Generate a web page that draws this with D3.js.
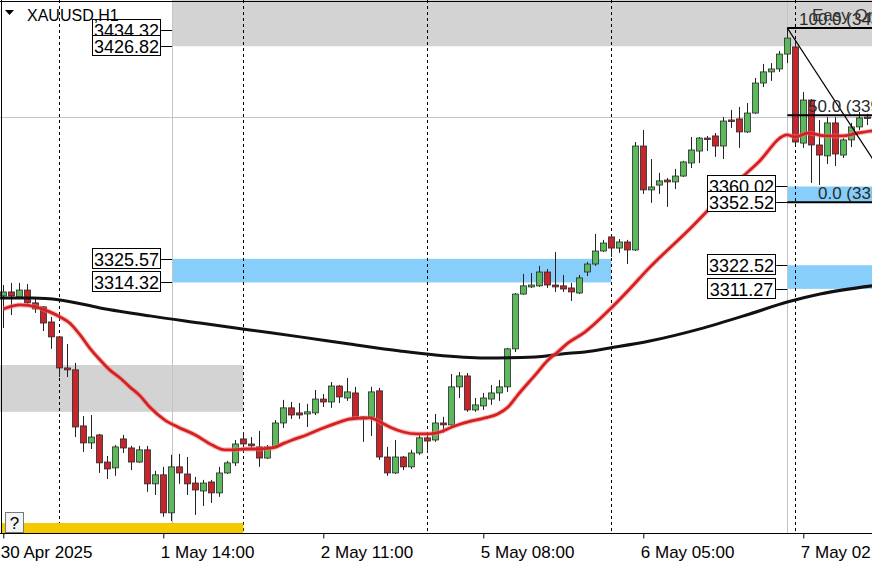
<!DOCTYPE html>
<html>
<head>
<meta charset="utf-8">
<title>XAUUSD,H1</title>
<script src="https://cdn.jsdelivr.net/npm/d3@7/dist/d3.min.js"></script>
<style>
  body { margin: 0; background: #fff; }
  svg { display: block; font-family: "Liberation Sans", Arial, sans-serif; }
</style>
</head>
<body>
<svg id="chart" width="872" height="562"></svg>
<script>
// H1 candles, bar 0 = 30 Apr 17:00
var opens = [3307.9,3309.8,3307.4,3310.7,3304.6,3302.7,3295.5,3288.4,3273.6,3272.7,
  3246.0,3237.9,3241.7,3228.8,3226.0,3239.8,3235.5,3228.8,3234.6,3218.4,
  3222.7,3204.6,3226.5,3223.1,3218.8,3215.0,3219.3,3214.1,3223.6,3228.4,
  3239.8,3237.4,3236.0,3230.7,3236.0,3247.4,3254.6,3252.2,3251.7,3252.2,
  3258.8,3257.4,3265.0,3259.3,3261.7,3250.3,3250.3,3262.7,3231.2,3223.6,
  3231.2,3226.5,3233.1,3240.3,3239.3,3247.4,3246.5,3264.6,3269.8,3253.6,
  3255.5,3258.8,3261.7,3264.6,3282.7,3308.8,3312.2,3312.7,3319.3,3313.1,
  3312.7,3311.7,3309.3,3319.3,3323.1,3329.3,3336.0,3330.7,3333.6,3329.8,
  3379.3,3358.4,3360.7,3363.1,3362.2,3365.0,3371.2,3376.9,3383.1,3384.1,
  3379.3,3391.7,3392.2,3386.0,3395.0,3409.3,3414.6,3416.0,3423.1,3426.5,
  3380.7,3401.2,3379.8,3374.6,3390.3,3375.0,3382.2,3388.4,3393.1];
var highs = [3313.1,3314.1,3314.1,3313.6,3307.4,3303.1,3297.9,3288.8,3285.0,3276.0,
  3250.7,3251.2,3242.2,3231.7,3236.9,3241.7,3236.5,3236.5,3236.5,3224.6,
  3226.5,3232.2,3232.7,3231.2,3221.7,3220.3,3220.3,3226.5,3229.3,3239.3,
  3243.1,3240.7,3243.6,3236.9,3248.8,3258.4,3257.4,3256.9,3256.5,3263.1,
  3261.2,3266.9,3265.5,3268.8,3264.6,3250.7,3264.6,3264.1,3236.0,3239.3,
  3231.7,3234.6,3242.2,3242.2,3251.7,3250.3,3270.7,3271.7,3271.2,3259.3,
  3261.7,3265.5,3267.9,3283.1,3309.3,3318.4,3318.8,3322.2,3320.7,3328.8,
  3317.9,3314.1,3317.9,3324.1,3337.4,3334.6,3336.5,3335.0,3334.6,3381.2,
  3386.9,3373.1,3366.5,3364.1,3368.4,3372.2,3383.6,3383.6,3384.1,3385.5,
  3393.1,3396.5,3397.9,3399.8,3411.7,3418.4,3418.8,3424.6,3435.5,3429.8,
  3405.0,3401.7,3391.7,3393.1,3393.1,3383.1,3390.3,3395.5,3394.6];
var lows = [3292.6,3298.8,3306.9,3304.1,3299.8,3291.2,3282.7,3269.3,3269.3,3240.7,
  3233.6,3235.0,3223.6,3220.7,3222.2,3233.1,3225.0,3228.4,3214.6,3213.1,
  3202.7,3200.7,3218.4,3213.1,3203.6,3207.9,3209.3,3212.2,3223.1,3226.9,
  3236.5,3235.5,3226.5,3230.3,3235.5,3245.0,3249.3,3249.3,3245.5,3251.2,
  3255.0,3254.6,3256.9,3257.9,3249.3,3238.4,3241.2,3229.8,3222.2,3223.1,
  3225.0,3225.5,3232.2,3233.1,3238.4,3242.7,3245.5,3259.3,3252.7,3252.7,
  3253.6,3256.0,3257.9,3262.2,3281.2,3308.4,3311.7,3312.2,3311.7,3309.8,
  3309.8,3305.5,3308.8,3317.4,3322.2,3328.8,3326.5,3328.4,3323.1,3329.3,
  3356.5,3352.2,3356.5,3350.3,3358.8,3364.6,3368.8,3371.2,3376.9,3374.1,
  3373.1,3387.9,3378.4,3385.5,3394.6,3407.4,3410.3,3414.6,3418.8,3379.8,
  3378.4,3361.7,3360.7,3370.7,3369.8,3373.6,3378.8,3386.9,3389.3];
var closes = [3309.8,3307.9,3310.7,3304.6,3301.7,3295.0,3288.4,3273.6,3272.7,3245.5,
  3237.9,3240.7,3228.4,3225.5,3236.0,3235.5,3228.8,3234.6,3218.4,3222.7,
  3204.6,3226.5,3223.6,3218.4,3215.5,3218.8,3214.1,3223.6,3228.4,3237.4,
  3237.4,3236.5,3230.7,3236.0,3247.4,3254.6,3251.2,3251.2,3252.7,3258.8,
  3257.4,3265.0,3259.8,3262.2,3249.8,3249.3,3262.2,3231.2,3223.6,3231.2,
  3226.5,3233.1,3240.3,3238.8,3247.4,3246.5,3264.6,3269.8,3253.6,3256.0,
  3259.3,3261.7,3264.6,3282.7,3308.8,3312.7,3313.1,3319.3,3313.1,3312.2,
  3311.2,3309.8,3316.5,3323.1,3329.3,3333.1,3330.7,3333.6,3329.8,3379.3,
  3358.4,3359.8,3362.7,3362.2,3365.0,3371.7,3377.4,3383.1,3382.7,3379.3,
  3391.2,3391.2,3386.0,3395.0,3409.3,3414.6,3416.0,3423.1,3430.7,3381.2,
  3401.2,3379.8,3375.0,3390.3,3375.5,3382.2,3388.4,3392.7,3392.7];

// moving averages: [bar, price]
var maFast = [[0,3301.7],[2.1,3303.6],[4.2,3302.6],[5.8,3300.3],[7.1,3297.9],[8.3,3295.0],
  [9.6,3289.3],[10.8,3283.1],[12.1,3277.4],[13.3,3272.7],[14.6,3268.8],[15.8,3264.6],
  [17.1,3260.3],[18.3,3255.0],[20.2,3248.8],[21.8,3245.5],[24.0,3241.7],[26.1,3236.9],
  [27.7,3234.6],[28.9,3234.6],[30.2,3235.0],[31.8,3235.0],[33.6,3235.5],[35.2,3237.9],
  [36.5,3239.8],[37.9,3241.7],[40.0,3245.0],[42.1,3247.9],[43.3,3249.3],[45.8,3249.8],
  [47.1,3247.9],[48.3,3245.5],[50.0,3243.1],[51.7,3242.2],[53.3,3242.2],[54.6,3243.1],
  [56.1,3245.5],[58.1,3247.9],[60.2,3249.8],[61.8,3251.7],[63.1,3255.0],[64.3,3260.7],
  [66.5,3270.3],[68.1,3277.4],[69.3,3281.2],[70.6,3285.5],[72.7,3290.7],[76.0,3302.2],
  [78.3,3311.2],[80.5,3320.3],[85.8,3339.8],[90.2,3356.9],[94.3,3371.2],[98.0,3384.6],
  [99.0,3383.6],[100.6,3385.5],[102.7,3384.1],[104.8,3384.1],[106.8,3385.5],[108.6,3386.5]];
var maSlow = [[-0.4,3306.9],[3.7,3306.9],[7.1,3306.0],[12.1,3302.2],[18.3,3298.4],[24.6,3295.0],
  [30.8,3291.7],[37.1,3288.4],[43.3,3285.0],[49.6,3281.7],[54.0,3279.8],[60.2,3278.4],
  [66.5,3278.8],[69.8,3280.3],[72.7,3281.2],[75.8,3283.1],[80.8,3286.4],[87.1,3292.2],
  [93.3,3299.3],[98.0,3305.0],[102.1,3308.8],[108.6,3312.7]];

var timeTicks = [0, 20, 40, 60, 80, 100];
var timeLabels = ["30 Apr 2025", "1 May 14:00", "2 May 11:00", "5 May 08:00", "6 May 05:00", "7 May 02:00"];
var daySeparators = [7, 30, 53, 76, 99];
var gridBars = [21.1, 98];
var gridPrices = [3393.1];

var grayZones = [
  { from: 21.1, to: 120, top: 3460, bottom: 3426.82 },
  { from: -2, to: 30, top: 3275.0, bottom: 3252.7 }
];
var blueZones = [
  { from: 21.1, to: 76, top: 3325.57, bottom: 3314.32 },
  { from: 98, to: 120, top: 3360.02, bottom: 3352.52 },
  { from: 98, to: 120, top: 3322.52, bottom: 3311.27 }
];
var tagPrices = [3434.32, 3426.82, 3325.57, 3314.32, 3360.02, 3352.52, 3322.52, 3311.27];
var tagBars = [21.1, 21.1, 21.1, 21.1, 98, 98, 98, 98];

var fibHigh = 3435.47, fibLow = 3352.52, fibStart = 98;
var fibLevels = [100, 50, 0];
var trendLine = [[98, 3435.5], [112, 3353.7]];

var W = 872, H = 562, plotBottom = 533;
var svg = d3.select("#chart");

var x = d3.scaleLinear().domain([0, 108]).range([3.3, 867.3]);
var y = d3.scaleLinear().domain([3195.0, 3448.84]).range([plotBottom, 0]);

svg.append("rect").attr("width", W).attr("height", H).attr("fill", "#fff");

svg.append("defs").append("clipPath").attr("id", "plot")
  .append("rect").attr("x", 0).attr("y", 0).attr("width", W).attr("height", plotBottom);

var plot = svg.append("g").attr("clip-path", "url(#plot)");

function zoneRect(sel, color) {
  sel.append("rect")
    .attr("x", function (d) { return x(d.from); })
    .attr("y", function (d) { return y(d.top); })
    .attr("width", function (d) { return x(d.to) - x(d.from); })
    .attr("height", function (d) { return y(d.bottom) - y(d.top); })
    .attr("fill", color);
}
plot.selectAll(".gz").data(grayZones).enter().call(zoneRect, "#d3d3d3");
plot.selectAll(".bz").data(blueZones).enter().call(zoneRect, "#87cefa");

// grid
plot.selectAll(".gx").data(gridBars).enter().append("line")
  .attr("x1", function (d) { return Math.round(x(d)) + 0.5; })
  .attr("x2", function (d) { return Math.round(x(d)) + 0.5; })
  .attr("y1", 0).attr("y2", plotBottom)
  .attr("stroke", "#c4c4c4").attr("stroke-width", 1);
plot.selectAll(".gy").data(gridPrices).enter().append("line")
  .attr("x1", 0).attr("x2", W)
  .attr("y1", function (d) { return Math.round(y(d)) + 0.5; })
  .attr("y2", function (d) { return Math.round(y(d)) + 0.5; })
  .attr("stroke", "#c4c4c4").attr("stroke-width", 1);

// day separators
plot.selectAll(".sep").data(daySeparators).enter().append("line")
  .attr("x1", function (d) { return Math.round(x(d)) + 0.5; })
  .attr("x2", function (d) { return Math.round(x(d)) + 0.5; })
  .attr("y1", 0).attr("y2", plotBottom)
  .attr("stroke", "#000").attr("stroke-width", 1).attr("stroke-dasharray", "3,3");

// yellow strip and ? button
plot.append("rect").attr("x", x(-0.3)).attr("y", 523).attr("width", x(30) - x(-0.3)).attr("height", 10)
  .attr("fill", "#f5c800");
plot.append("rect").attr("x", 5.5).attr("y", 512.5).attr("width", 18).attr("height", 20)
  .attr("fill", "#f4f4f4").attr("stroke", "#7a7a7a");
plot.append("text").attr("x", 14.5).attr("y", 529).attr("text-anchor", "middle")
  .attr("font-size", 17).attr("fill", "#000").text("?");

// candles
var bars = d3.range(opens.length);
var candle = plot.selectAll(".c").data(bars).enter().append("g");
candle.append("line")
  .attr("x1", function (i) { return Math.round(x(i)) + 0.5; })
  .attr("x2", function (i) { return Math.round(x(i)) + 0.5; })
  .attr("y1", function (i) { return y(highs[i]); })
  .attr("y2", function (i) { return y(lows[i]); })
  .attr("stroke", "#222").attr("stroke-width", 1);
candle.append("rect")
  .attr("x", function (i) { return Math.round(x(i)) - 2.5; })
  .attr("y", function (i) { return y(Math.max(opens[i], closes[i])); })
  .attr("width", 6)
  .attr("height", function (i) { return Math.max(1.5, Math.abs(y(opens[i]) - y(closes[i]))); })
  .attr("fill", function (i) { return closes[i] >= opens[i] ? "#5cb85c" : "#c4262e"; })
  .attr("stroke", "#2a2a2a").attr("stroke-width", 0.8);

// moving averages
var line = d3.line().x(function (d) { return x(d[0]); }).y(function (d) { return y(d[1]); })
  .curve(d3.curveMonotoneX);
plot.append("path").datum(maSlow).attr("d", line)
  .attr("fill", "none").attr("stroke", "#111").attr("stroke-width", 3);
plot.append("path").datum(maFast).attr("d", line)
  .attr("fill", "none").attr("stroke", "#f08080").attr("stroke-width", 5).attr("opacity", 0.5);
plot.append("path").datum(maFast).attr("d", line)
  .attr("fill", "none").attr("stroke", "#d42020").attr("stroke-width", 2.8);

// trend line
plot.append("line")
  .attr("x1", x(trendLine[0][0])).attr("y1", y(trendLine[0][1]))
  .attr("x2", x(trendLine[1][0])).attr("y2", y(trendLine[1][1]))
  .attr("stroke", "#000").attr("stroke-width", 1.3);

// fibonacci
var fib = plot.selectAll(".fib").data(fibLevels).enter().append("g");
fib.append("line")
  .attr("x1", x(fibStart)).attr("x2", W)
  .attr("y1", function (d) { return y(fibLow + (fibHigh - fibLow) * d / 100); })
  .attr("y2", function (d) { return y(fibLow + (fibHigh - fibLow) * d / 100); })
  .attr("stroke", "#000").attr("stroke-width", 2);
plot.append("text").attr("x", 812).attr("y", 21).attr("font-size", 17).attr("fill", "#333")
  .text("Easy Order");
fib.append("text")
  .attr("x", function (d) { return d === 100 ? 799 : d === 50 ? 808 : 818; })
  .attr("y", function (d) { return y(fibLow + (fibHigh - fibLow) * d / 100) - 3; })
  .attr("font-size", 17).attr("fill", "#2a2a2a")
  .text(function (d) {
    return d.toFixed(1) + " (" + (fibLow + (fibHigh - fibLow) * d / 100).toFixed(2) + ")";
  });

// price tags
var tags = svg.selectAll(".tag").data(tagPrices).enter().append("g");
tags.append("line")
  .attr("x1", function (d, i) { return x(tagBars[i]) - 11; })
  .attr("x2", function (d, i) { return x(tagBars[i]); })
  .attr("y1", function (d) { return Math.round(y(d)) + 0.5; })
  .attr("y2", function (d) { return Math.round(y(d)) + 0.5; })
  .attr("stroke", "#000");
tags.append("rect")
  .attr("x", function (d, i) { return Math.round(x(tagBars[i])) - 79.5; })
  .attr("y", function (d) { return Math.round(y(d)) - 10.5; })
  .attr("width", 68).attr("height", 20)
  .attr("fill", "#fff").attr("stroke", "#000");
tags.append("text")
  .attr("x", function (d, i) { return Math.round(x(tagBars[i])) - 45.5; })
  .attr("y", function (d) { return Math.round(y(d)) + 6.5; })
  .attr("text-anchor", "middle").attr("font-size", 18).attr("fill", "#000")
  .text(function (d) { return d.toFixed(2); });

// time axis
var axis = d3.axisBottom(x).tickValues(timeTicks).tickSize(5).tickPadding(4)
  .tickFormat(function (d, i) { return timeLabels[i]; });
var ax = svg.append("g").attr("transform", "translate(0," + (plotBottom + 0.5) + ")").call(axis);
ax.select(".domain").attr("d", "M0,0H" + W).attr("stroke", "#000");
ax.selectAll(".tick line").attr("stroke", "#000");
ax.selectAll(".tick text").attr("text-anchor", "start").attr("font-size", 17)
  .attr("font-family", "Liberation Sans, Arial, sans-serif").attr("fill", "#000")
  .attr("dx", -3).attr("dy", "0.9em");

// frame and title
svg.append("line").attr("x1", 1.5).attr("x2", 1.5).attr("y1", 0).attr("y2", plotBottom).attr("stroke", "#000");
svg.append("line").attr("x1", 0).attr("x2", W).attr("y1", 1.5).attr("y2", 1.5).attr("stroke", "#000");
svg.append("path").attr("d", "M5,10 L14,10 L9.5,15 Z").attr("fill", "#000");
svg.append("text").attr("x", 27).attr("y", 21).attr("font-size", 16).attr("fill", "#000").text("XAUUSD,H1");
</script>
</body>
</html>
